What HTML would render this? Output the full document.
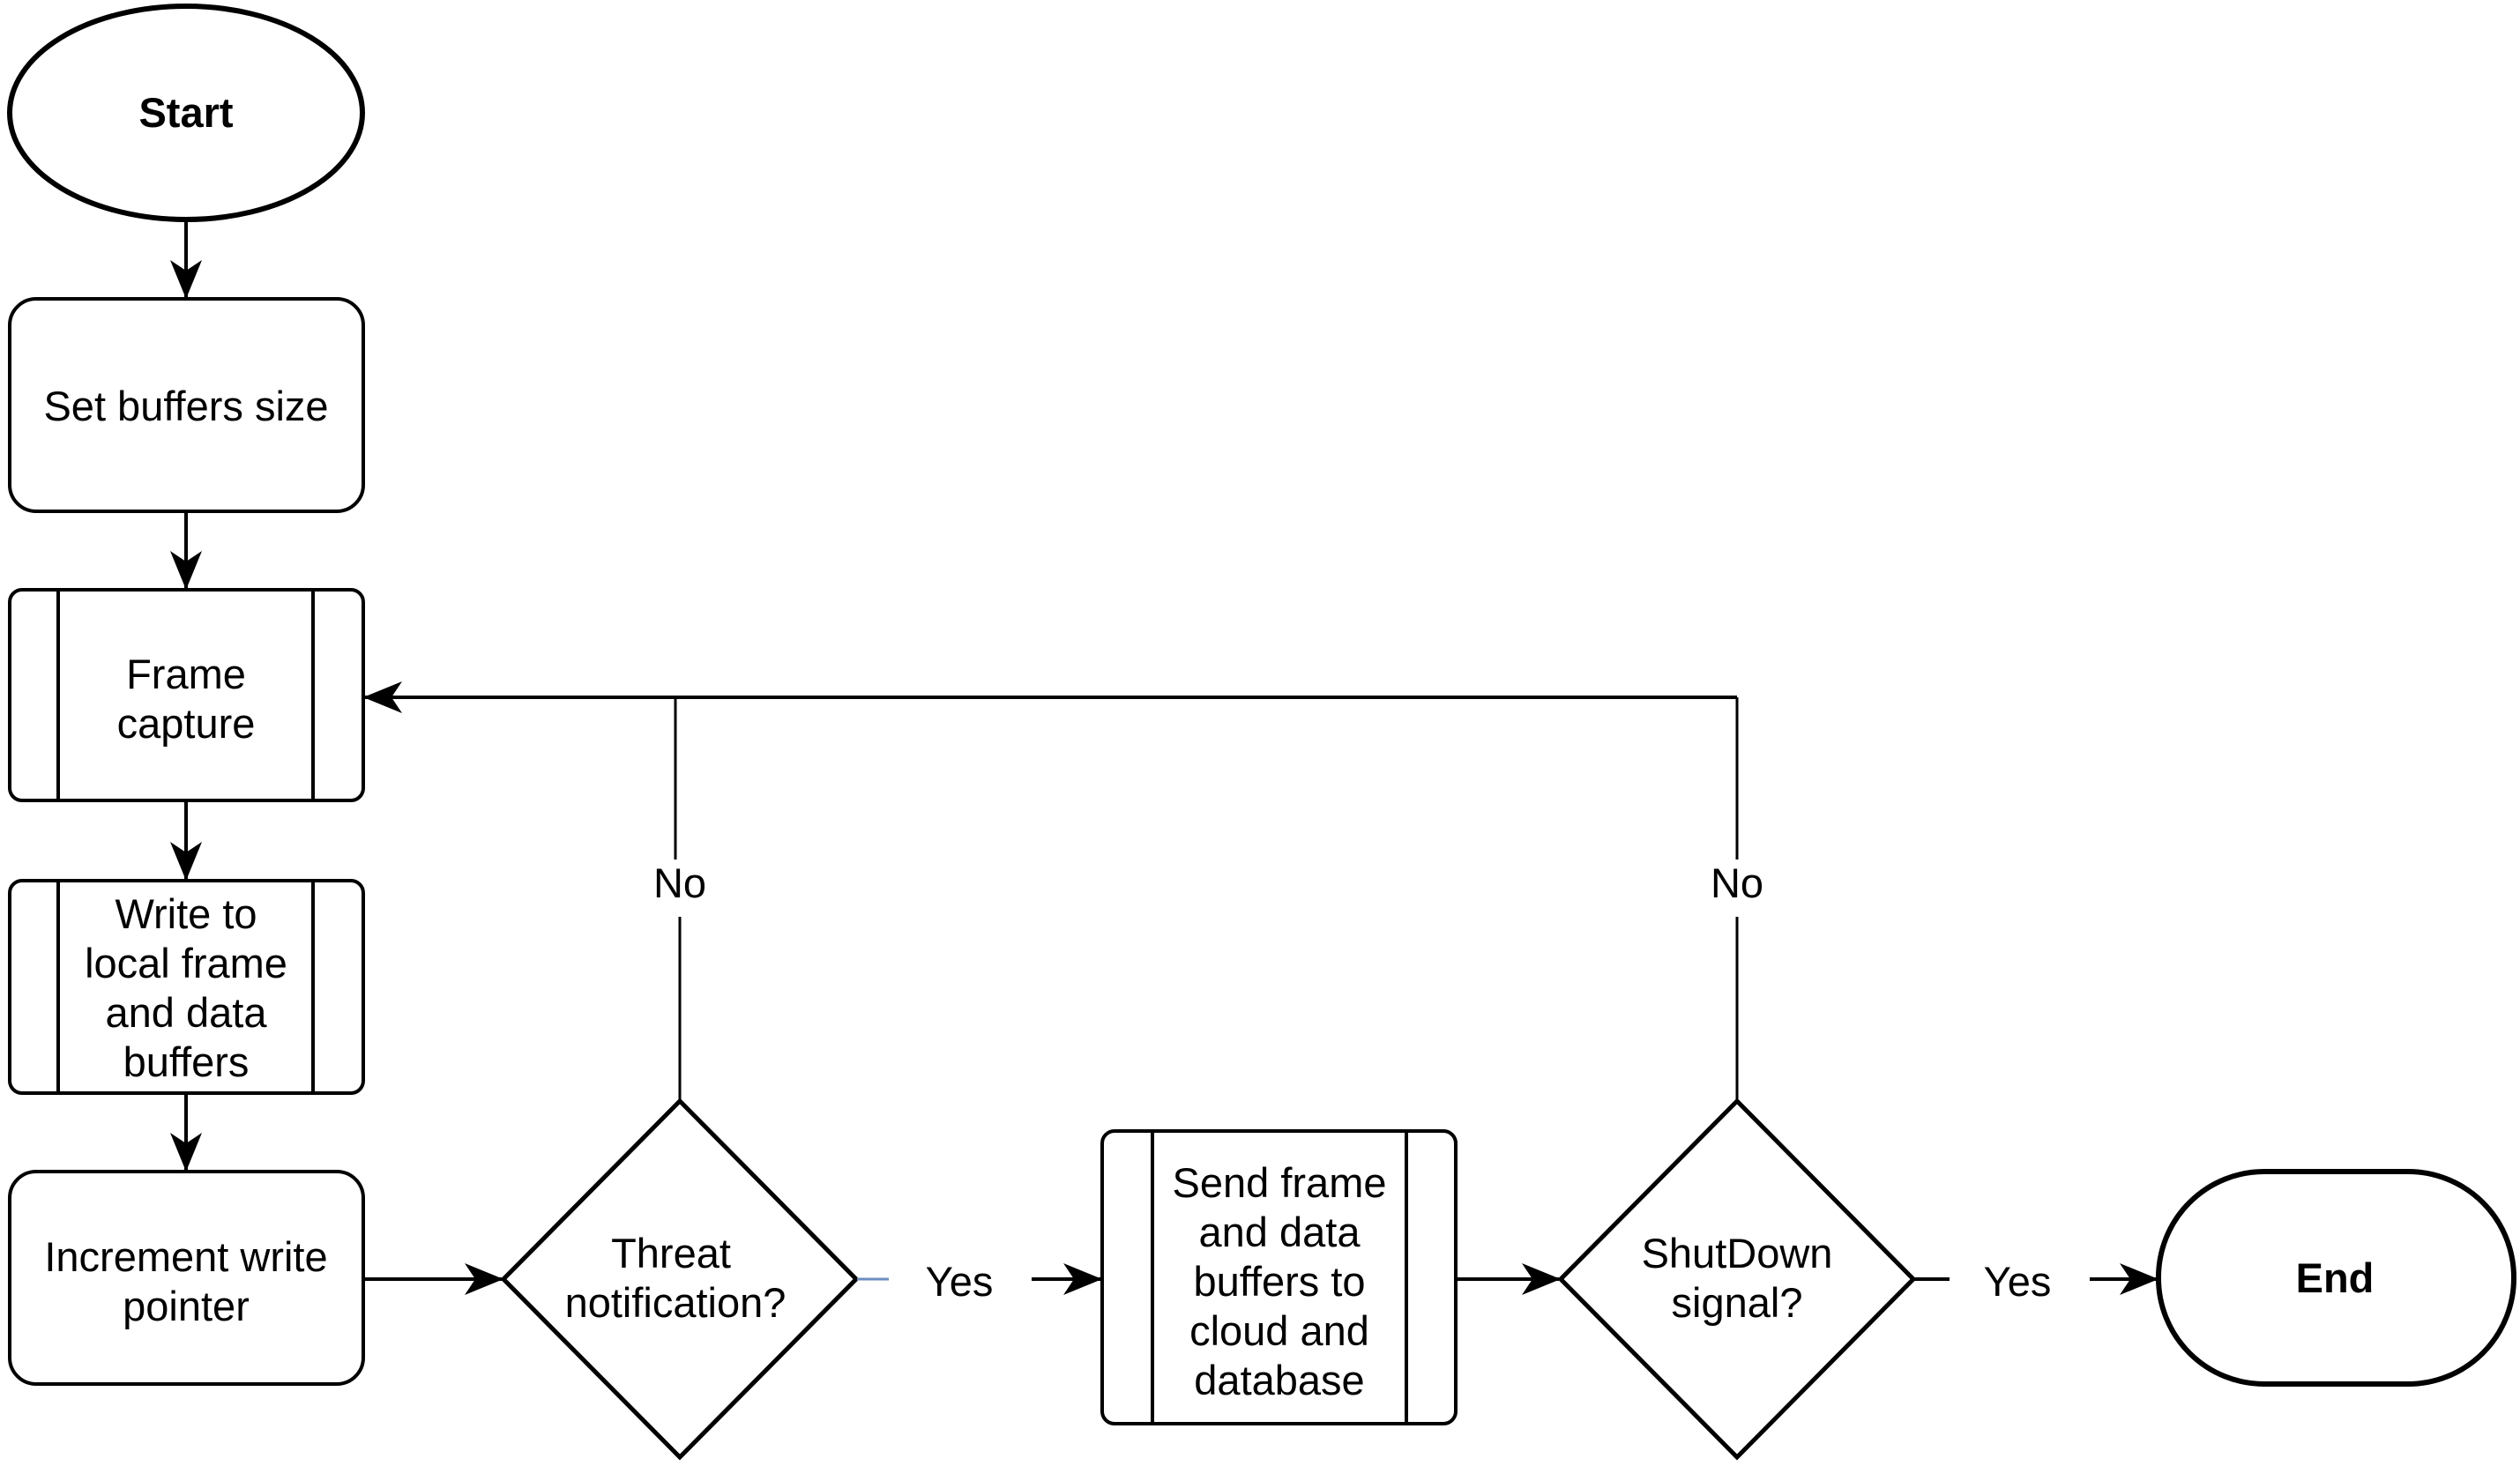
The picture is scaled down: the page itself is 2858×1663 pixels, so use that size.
<!DOCTYPE html>
<html><head><meta charset="utf-8"><style>
html,body{margin:0;padding:0;background:#fff;}
svg text{font-family:"Liberation Sans",Arial,sans-serif;font-size:47px;fill:#000;text-anchor:middle;}
</style></head><body>
<svg width="2858" height="1658" viewBox="0 0 2858 1658" xmlns="http://www.w3.org/2000/svg">
<defs>
<marker id="b" viewBox="0 0 44 36" refX="42" refY="18" markerWidth="44" markerHeight="36" markerUnits="userSpaceOnUse" orient="auto">
<path d="M0,0 L44,18 L0,36 L12,18 Z" fill="#000"/>
</marker>
</defs>
<g fill="none" stroke="#000" stroke-width="4">
<ellipse cx="211" cy="128" rx="200" ry="121" stroke-width="6"/>
<rect x="11" y="339" width="401" height="241" rx="30"/>
<rect x="11" y="669" width="401" height="239" rx="14"/>
<line x1="66" y1="669" x2="66" y2="908"/><line x1="355" y1="669" x2="355" y2="908"/>
<rect x="11" y="999" width="401" height="241" rx="14"/>
<line x1="66" y1="999" x2="66" y2="1240"/><line x1="355" y1="999" x2="355" y2="1240"/>
<rect x="11" y="1329" width="401" height="241" rx="30"/>
<polygon points="771,1249 971,1451 771,1653 571,1451" stroke-width="5"/>
<rect x="1250" y="1283" width="401" height="332" rx="14"/>
<line x1="1307" y1="1283" x2="1307" y2="1615"/><line x1="1595" y1="1283" x2="1595" y2="1615"/>
<polygon points="1970,1249 2170,1451 1970,1653 1770,1451" stroke-width="5"/>
<rect x="2448" y="1329" width="403" height="241" rx="120" stroke-width="6"/>
<line x1="211" y1="250" x2="211" y2="337" marker-end="url(#b)"/>
<line x1="211" y1="580" x2="211" y2="667" marker-end="url(#b)"/>
<line x1="211" y1="908" x2="211" y2="997" marker-end="url(#b)"/>
<line x1="211" y1="1240" x2="211" y2="1327" marker-end="url(#b)"/>
<line x1="412" y1="1451" x2="569" y2="1451" marker-end="url(#b)"/>
<line x1="972" y1="1451" x2="1008" y2="1451" stroke="#6c8ebf" stroke-width="3"/>
<line x1="1170" y1="1451" x2="1248" y2="1451" marker-end="url(#b)"/>
<line x1="1651" y1="1451" x2="1768" y2="1451" marker-end="url(#b)"/>
<line x1="2171" y1="1451" x2="2211" y2="1451"/>
<line x1="2370" y1="1451" x2="2446" y2="1451" marker-end="url(#b)"/>
<polyline points="771,1249 771,1040" stroke-width="3"/>
<polyline points="766,975 766,791" stroke-width="3"/>
<polyline points="1970,1249 1970,1040" stroke-width="3"/>
<polyline points="1970,975 1970,791" stroke-width="3"/>
<line x1="1970" y1="791" x2="414" y2="791" marker-end="url(#b)"/>
</g>
<text x="211" y="144" font-weight="bold">Start</text>
<text x="211" y="477">Set buffers size</text>
<text x="211" y="781">Frame</text><text x="211" y="837">capture</text>
<text x="211" y="1053">Write to</text><text x="211" y="1109">local frame</text><text x="211" y="1165">and data</text><text x="211" y="1221">buffers</text>
<text x="211" y="1442">Increment write</text><text x="211" y="1498">pointer</text>
<text x="771" y="1018">No</text>
<text x="1970" y="1018">No</text>
<text x="761" y="1438">Threat</text><text x="766" y="1494">notification?</text>
<text x="1088" y="1470">Yes</text>
<text x="1451" y="1358">Send frame</text><text x="1451" y="1414">and data</text><text x="1451" y="1470">buffers to</text><text x="1451" y="1526">cloud and</text><text x="1451" y="1582">database</text>
<text x="1970" y="1438">ShutDown</text><text x="1970" y="1494">signal?</text>
<text x="2288" y="1470">Yes</text>
<text x="2648" y="1466" font-weight="bold">End</text>
</svg>
</body></html>
